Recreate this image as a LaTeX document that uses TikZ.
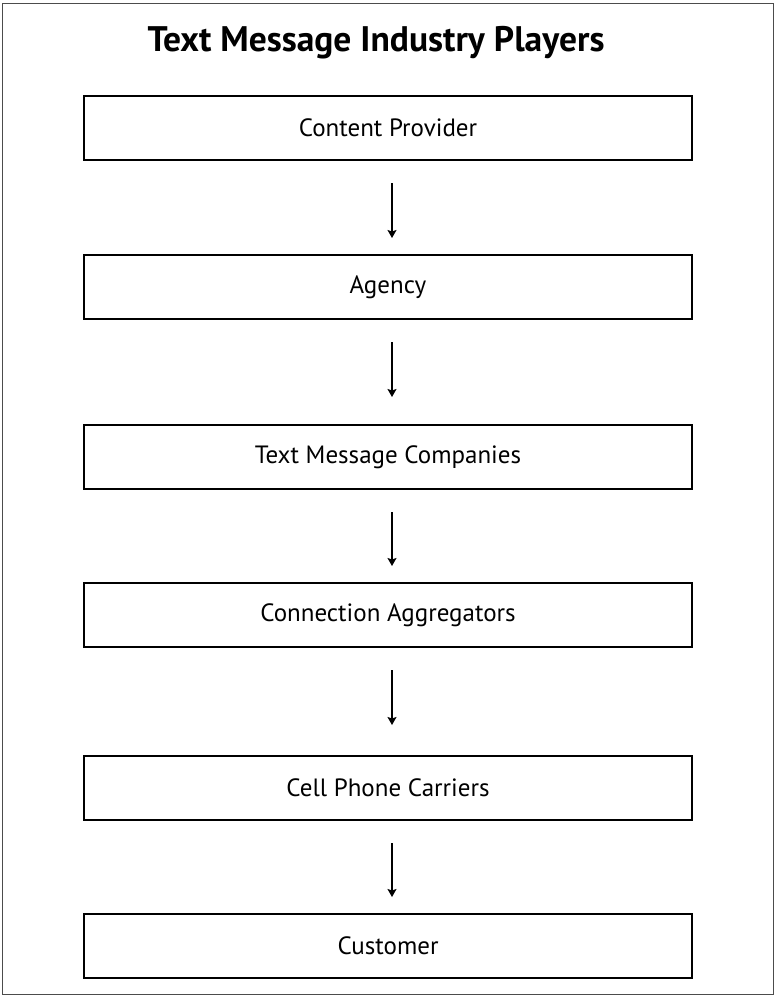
\documentclass[tikz,border=0pt]{standalone}
\usepackage{fontspec}
\setmainfont{PT Sans}
\usetikzlibrary{arrows.meta}
\begin{document}
\begin{tikzpicture}[x=1pt,y=-1pt,
  stage/.style={draw,line width=1.6pt,minimum width=608pt,minimum height=64pt,inner sep=0pt,font=\fontsize{25}{28}\selectfont},
  flow/.style={-{Stealth[length=8pt,width=9pt,inset=1.5pt]},line width=1.1pt}]
\useasboundingbox (0,0) rectangle (775,997);
\draw[line width=0.8pt,black!70] (2,3) rectangle (773,994);
\node[font=\bfseries\fontsize{35.5}{40}\selectfont,anchor=base] (title) at (376,51) {Text Message Industry Players};
\node[stage] (b1) at (388,128) {Content Provider};
\node[stage] (b2) at (388,287) {Agency};
\node[stage] (b3) at (388,457) {Text Message Companies};
\node[stage] (b4) at (388,615) {Connection Aggregators};
\node[stage] (b5) at (388,788) {Cell Phone Carriers};
\node[stage] (b6) at (388,946) {Customer};
\coordinate (a1s) at (392,183); \coordinate (a1e) at (392,238);
\coordinate (a2s) at (392,342); \coordinate (a2e) at (392,397);
\coordinate (a3s) at (392,512); \coordinate (a3e) at (392,566);
\coordinate (a4s) at (392,670); \coordinate (a4e) at (392,725);
\coordinate (a5s) at (392,843); \coordinate (a5e) at (392,897);
\draw[flow] (a1s) -- (a1e);
\draw[flow] (a2s) -- (a2e);
\draw[flow] (a3s) -- (a3e);
\draw[flow] (a4s) -- (a4e);
\draw[flow] (a5s) -- (a5e);
\end{tikzpicture}
\end{document}
